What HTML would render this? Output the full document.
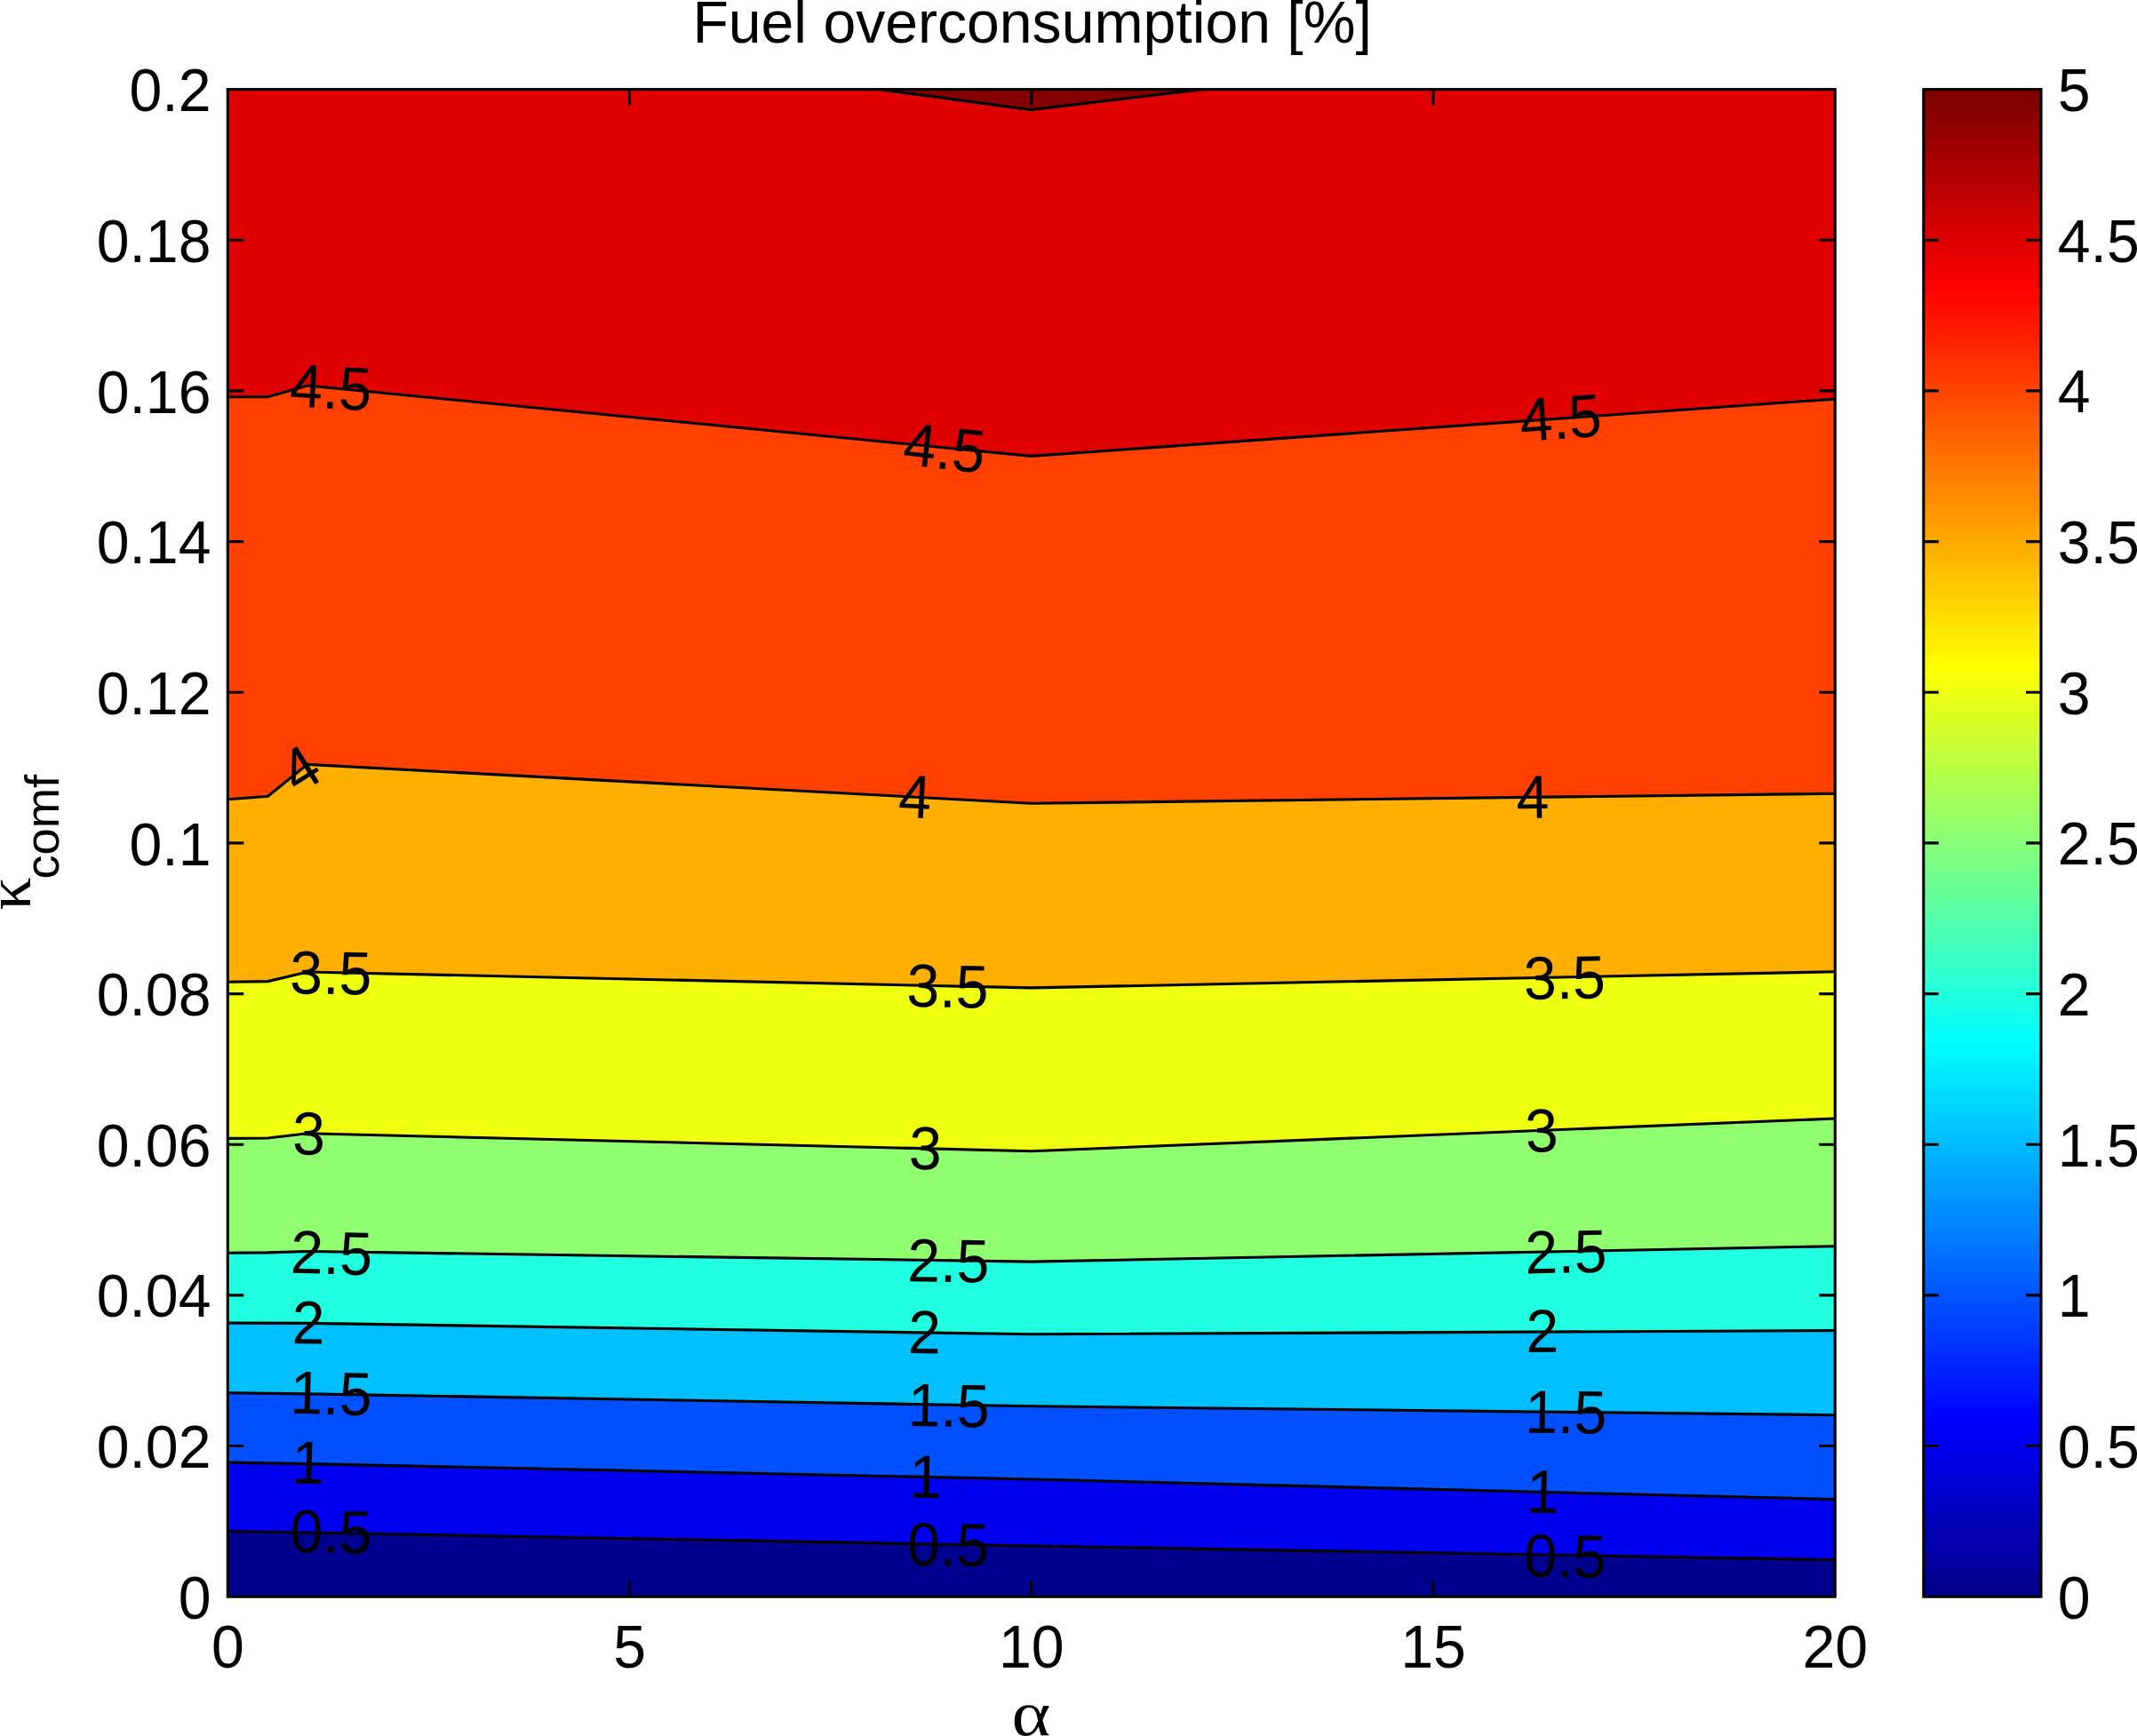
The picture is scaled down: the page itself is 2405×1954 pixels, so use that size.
<!DOCTYPE html>
<html lang="en"><head><meta charset="utf-8"><title>Fuel overconsumption [%]</title>
<style>html,body{margin:0;padding:0;background:#fff;overflow:hidden}svg{display:block}text{font-family:"Liberation Sans",sans-serif;font-size:66.67px;fill:#000}.sym{font-family:"Liberation Serif",serif}.ln{fill:none;stroke:#000;stroke-width:3.10;stroke-linejoin:miter;stroke-linecap:butt}</style></head><body>
<svg width="2405" height="1954" viewBox="0 0 2405 1954">
<rect x="0" y="0" width="2405" height="1954" fill="#fff"/>
<g shape-rendering="geometricPrecision">
<rect x="256.3" y="100.6" width="1808.9" height="1696.6" fill="#DF0000"/>
<polygon points="990.0,100.6 1160.5,123.6 1353.0,100.6" fill="#840000"/>
<polygon points="256.3,446.7 301.5,446.7 346.0,434.0 1160.5,513.4 2065.2,449.1 2065.2,1797.2 256.3,1797.2" fill="#FF4000"/>
<polygon points="256.3,899.7 301.5,896.2 346.0,860.4 1160.5,904.2 2065.2,893.2 2065.2,1797.2 256.3,1797.2" fill="#FFAF00"/>
<polygon points="256.3,1105.3 301.5,1104.6 346.0,1094.0 1160.5,1111.9 2065.2,1093.7 2065.2,1797.2 256.3,1797.2" fill="#EFFF10"/>
<polygon points="256.3,1281.4 301.5,1281.0 346.0,1275.8 1160.5,1295.7 2065.2,1259.0 2065.2,1797.2 256.3,1797.2" fill="#8FFF70"/>
<polygon points="256.3,1410.2 301.5,1409.9 346.0,1408.5 1160.5,1420.1 2065.2,1402.7 2065.2,1797.2 256.3,1797.2" fill="#20FFDF"/>
<polygon points="256.3,1489.1 346.0,1489.4 1160.5,1501.8 2065.2,1497.6 2065.2,1797.2 256.3,1797.2" fill="#00BFFF"/>
<polygon points="256.3,1567.8 346.0,1568.9 1160.5,1582.8 2065.2,1592.7 2065.2,1797.2 256.3,1797.2" fill="#0050FF"/>
<polygon points="256.3,1646.1 346.0,1647.6 1160.5,1665.0 2065.2,1687.6 2065.2,1797.2 256.3,1797.2" fill="#0000EF"/>
<polygon points="256.3,1723.5 346.0,1725.0 1160.5,1740.0 2065.2,1755.7 2065.2,1797.2 256.3,1797.2" fill="#00008F"/>
</g>
<g class="ln">
<polyline points="990.0,100.6 1160.5,123.6 1353.0,100.6"/>
<polyline points="256.3,446.7 301.5,446.7 346.0,434.0 1160.5,513.4 2065.2,449.1"/>
<polyline points="256.3,899.7 301.5,896.2 346.0,860.4 1160.5,904.2 2065.2,893.2"/>
<polyline points="256.3,1105.3 301.5,1104.6 346.0,1094.0 1160.5,1111.9 2065.2,1093.7"/>
<polyline points="256.3,1281.4 301.5,1281.0 346.0,1275.8 1160.5,1295.7 2065.2,1259.0"/>
<polyline points="256.3,1410.2 301.5,1409.9 346.0,1408.5 1160.5,1420.1 2065.2,1402.7"/>
<polyline points="256.3,1489.1 346.0,1489.4 1160.5,1501.8 2065.2,1497.6"/>
<polyline points="256.3,1567.8 346.0,1568.9 1160.5,1582.8 2065.2,1592.7"/>
<polyline points="256.3,1646.1 346.0,1647.6 1160.5,1665.0 2065.2,1687.6"/>
<polyline points="256.3,1723.5 346.0,1725.0 1160.5,1740.0 2065.2,1755.7"/>
</g>
<g>
<text transform="translate(325.24 457.34) rotate(3.00) scale(0.9930 1.0300)">4.5</text>
<text transform="translate(334.93 895.28) rotate(-32.00) scale(0.9930 1.0300)">4</text>
<text transform="translate(326.12 1118.33) rotate(0.70) scale(0.9930 1.0300)">3.5</text>
<text transform="translate(329.10 1299.54) rotate(0.50) scale(0.9930 1.0300)">3</text>
<text transform="translate(326.51 1432.68) rotate(1.50) scale(0.9930 1.0300)">2.5</text>
<text transform="translate(328.40 1512.14) rotate(0.50) scale(0.9930 1.0300)">2</text>
<text transform="translate(326.01 1590.78) rotate(1.50) scale(0.9930 1.0300)">1.5</text>
<text transform="translate(327.70 1669.41) rotate(1.50) scale(0.9930 1.0300)">1</text>
<text transform="translate(326.30 1747.09) rotate(1.00) scale(0.9930 1.0300)">0.5</text>
<text transform="translate(1014.72 522.67) rotate(6.30) scale(0.9930 1.0300)">4.5</text>
<text transform="translate(1010.31 919.50) rotate(3.00) scale(0.9930 1.0300)">4</text>
<text transform="translate(1020.12 1132.82) rotate(1.20) scale(0.9930 1.0300)">3.5</text>
<text transform="translate(1022.48 1315.77) rotate(1.30) scale(0.9930 1.0300)">3</text>
<text transform="translate(1020.98 1442.15) rotate(0.80) scale(0.9930 1.0300)">2.5</text>
<text transform="translate(1021.68 1523.04) rotate(0.80) scale(0.9930 1.0300)">2</text>
<text transform="translate(1021.40 1604.99) rotate(1.00) scale(0.9930 1.0300)">1.5</text>
<text transform="translate(1022.72 1685.41) rotate(1.20) scale(0.9930 1.0300)">1</text>
<text transform="translate(1020.70 1761.49) rotate(1.00) scale(0.9930 1.0300)">0.5</text>
<text transform="translate(1712.04 496.98) rotate(-4.00) scale(0.9930 1.0300)">4.5</text>
<text transform="translate(1706.79 920.92) rotate(-0.70) scale(0.9930 1.0300)">4</text>
<text transform="translate(1715.16 1124.99) rotate(-1.10) scale(0.9930 1.0300)">3.5</text>
<text transform="translate(1717.55 1297.03) rotate(-2.30) scale(0.9930 1.0300)">3</text>
<text transform="translate(1716.86 1433.49) rotate(-1.10) scale(0.9930 1.0300)">2.5</text>
<text transform="translate(1717.42 1522.00) rotate(-0.30) scale(0.9930 1.0300)">2</text>
<text transform="translate(1715.96 1612.71) rotate(0.60) scale(0.9930 1.0300)">1.5</text>
<text transform="translate(1717.14 1702.24) rotate(1.40) scale(0.9930 1.0300)">1</text>
<text transform="translate(1715.10 1774.49) rotate(1.00) scale(0.9930 1.0300)">0.5</text>
</g>
<g class="ln">
<rect x="256.3" y="100.6" width="1808.9" height="1696.6"/>
<path d="M708.5 1797.2V1779.2M708.5 100.6V118.6M1160.8 1797.2V1779.2M1160.8 100.6V118.6M1613.0 1797.2V1779.2M1613.0 100.6V118.6M256.3 270.3H274.3M2065.2 270.3H2047.2M256.3 439.9H274.3M2065.2 439.9H2047.2M256.3 609.6H274.3M2065.2 609.6H2047.2M256.3 779.2H274.3M2065.2 779.2H2047.2M256.3 948.9H274.3M2065.2 948.9H2047.2M256.3 1118.6H274.3M2065.2 1118.6H2047.2M256.3 1288.2H274.3M2065.2 1288.2H2047.2M256.3 1457.9H274.3M2065.2 1457.9H2047.2M256.3 1627.5H274.3M2065.2 1627.5H2047.2"/>
</g>
<defs><linearGradient id="jet" gradientUnits="userSpaceOnUse" x1="0" y1="1797.2" x2="0" y2="100.6">
<stop offset="0.00781" stop-color="#00008F"/>
<stop offset="0.02344" stop-color="#00009F"/>
<stop offset="0.03906" stop-color="#0000AF"/>
<stop offset="0.05469" stop-color="#0000BF"/>
<stop offset="0.07031" stop-color="#0000CF"/>
<stop offset="0.08594" stop-color="#0000DF"/>
<stop offset="0.10156" stop-color="#0000EF"/>
<stop offset="0.11719" stop-color="#0000FF"/>
<stop offset="0.13281" stop-color="#0010FF"/>
<stop offset="0.14844" stop-color="#0020FF"/>
<stop offset="0.16406" stop-color="#0030FF"/>
<stop offset="0.17969" stop-color="#0040FF"/>
<stop offset="0.19531" stop-color="#0050FF"/>
<stop offset="0.21094" stop-color="#0060FF"/>
<stop offset="0.22656" stop-color="#0070FF"/>
<stop offset="0.24219" stop-color="#0080FF"/>
<stop offset="0.25781" stop-color="#008FFF"/>
<stop offset="0.27344" stop-color="#009FFF"/>
<stop offset="0.28906" stop-color="#00AFFF"/>
<stop offset="0.30469" stop-color="#00BFFF"/>
<stop offset="0.32031" stop-color="#00CFFF"/>
<stop offset="0.33594" stop-color="#00DFFF"/>
<stop offset="0.35156" stop-color="#00EFFF"/>
<stop offset="0.36719" stop-color="#00FFFF"/>
<stop offset="0.38281" stop-color="#10FFEF"/>
<stop offset="0.39844" stop-color="#20FFDF"/>
<stop offset="0.41406" stop-color="#30FFCF"/>
<stop offset="0.42969" stop-color="#40FFBF"/>
<stop offset="0.44531" stop-color="#50FFAF"/>
<stop offset="0.46094" stop-color="#60FF9F"/>
<stop offset="0.47656" stop-color="#70FF8F"/>
<stop offset="0.49219" stop-color="#80FF80"/>
<stop offset="0.50781" stop-color="#8FFF70"/>
<stop offset="0.52344" stop-color="#9FFF60"/>
<stop offset="0.53906" stop-color="#AFFF50"/>
<stop offset="0.55469" stop-color="#BFFF40"/>
<stop offset="0.57031" stop-color="#CFFF30"/>
<stop offset="0.58594" stop-color="#DFFF20"/>
<stop offset="0.60156" stop-color="#EFFF10"/>
<stop offset="0.61719" stop-color="#FFFF00"/>
<stop offset="0.63281" stop-color="#FFEF00"/>
<stop offset="0.64844" stop-color="#FFDF00"/>
<stop offset="0.66406" stop-color="#FFCF00"/>
<stop offset="0.67969" stop-color="#FFBF00"/>
<stop offset="0.69531" stop-color="#FFAF00"/>
<stop offset="0.71094" stop-color="#FF9F00"/>
<stop offset="0.72656" stop-color="#FF8F00"/>
<stop offset="0.74219" stop-color="#FF8000"/>
<stop offset="0.75781" stop-color="#FF7000"/>
<stop offset="0.77344" stop-color="#FF6000"/>
<stop offset="0.78906" stop-color="#FF5000"/>
<stop offset="0.80469" stop-color="#FF4000"/>
<stop offset="0.82031" stop-color="#FF3000"/>
<stop offset="0.83594" stop-color="#FF2000"/>
<stop offset="0.85156" stop-color="#FF1000"/>
<stop offset="0.86719" stop-color="#FF0000"/>
<stop offset="0.88281" stop-color="#EF0000"/>
<stop offset="0.89844" stop-color="#DF0000"/>
<stop offset="0.91406" stop-color="#CF0000"/>
<stop offset="0.92969" stop-color="#BF0000"/>
<stop offset="0.94531" stop-color="#AF0000"/>
<stop offset="0.96094" stop-color="#9F0000"/>
<stop offset="0.97656" stop-color="#8F0000"/>
<stop offset="0.99219" stop-color="#800000"/>
</linearGradient></defs>
<rect x="2164.8" y="100.6" width="132.2" height="1696.6" fill="url(#jet)"/>
<g class="ln">
<rect x="2164.8" y="100.6" width="132.2" height="1696.6"/>
<path d="M2164.8 270.3H2181.8M2297.0 270.3H2280.0M2164.8 439.9H2181.8M2297.0 439.9H2280.0M2164.8 609.6H2181.8M2297.0 609.6H2280.0M2164.8 779.2H2181.8M2297.0 779.2H2280.0M2164.8 948.9H2181.8M2297.0 948.9H2280.0M2164.8 1118.6H2181.8M2297.0 1118.6H2280.0M2164.8 1288.2H2181.8M2297.0 1288.2H2280.0M2164.8 1457.9H2181.8M2297.0 1457.9H2280.0M2164.8 1627.5H2181.8M2297.0 1627.5H2280.0"/>
</g>
<g>
<text transform="translate(256.30 1877.00) scale(0.9930 1.0300)" text-anchor="middle">0</text>
<text transform="translate(708.53 1877.00) scale(0.9930 1.0300)" text-anchor="middle">5</text>
<text transform="translate(1160.75 1877.00) scale(0.9930 1.0300)" text-anchor="middle">10</text>
<text transform="translate(1612.97 1877.00) scale(0.9930 1.0300)" text-anchor="middle">15</text>
<text transform="translate(2065.20 1877.00) scale(0.9930 1.0300)" text-anchor="middle">20</text>
<text transform="translate(237.50 1821.80) scale(0.9930 1.0300)" text-anchor="end">0</text>
<text transform="translate(237.50 1652.14) scale(0.9930 1.0300)" text-anchor="end">0.02</text>
<text transform="translate(237.50 1482.48) scale(0.9930 1.0300)" text-anchor="end">0.04</text>
<text transform="translate(237.50 1312.82) scale(0.9930 1.0300)" text-anchor="end">0.06</text>
<text transform="translate(237.50 1143.16) scale(0.9930 1.0300)" text-anchor="end">0.08</text>
<text transform="translate(237.50 973.50) scale(0.9930 1.0300)" text-anchor="end">0.1</text>
<text transform="translate(237.50 803.84) scale(0.9930 1.0300)" text-anchor="end">0.12</text>
<text transform="translate(237.50 634.18) scale(0.9930 1.0300)" text-anchor="end">0.14</text>
<text transform="translate(237.50 464.52) scale(0.9930 1.0300)" text-anchor="end">0.16</text>
<text transform="translate(237.50 294.86) scale(0.9930 1.0300)" text-anchor="end">0.18</text>
<text transform="translate(237.50 125.20) scale(0.9930 1.0300)" text-anchor="end">0.2</text>
<text transform="translate(2315.80 1821.70) scale(0.9930 1.0300)">0</text>
<text transform="translate(2315.80 1652.04) scale(0.9930 1.0300)">0.5</text>
<text transform="translate(2315.80 1482.38) scale(0.9930 1.0300)">1</text>
<text transform="translate(2315.80 1312.72) scale(0.9930 1.0300)">1.5</text>
<text transform="translate(2315.80 1143.06) scale(0.9930 1.0300)">2</text>
<text transform="translate(2315.80 973.40) scale(0.9930 1.0300)">2.5</text>
<text transform="translate(2315.80 803.74) scale(0.9930 1.0300)">3</text>
<text transform="translate(2315.80 634.08) scale(0.9930 1.0300)">3.5</text>
<text transform="translate(2315.80 464.42) scale(0.9930 1.0300)">4</text>
<text transform="translate(2315.80 294.76) scale(0.9930 1.0300)">4.5</text>
<text transform="translate(2315.80 125.10) scale(0.9930 1.0300)">5</text>
</g>
<text transform="translate(1161.6 48.3) scale(0.992 1.0)" text-anchor="middle">Fuel overconsumption [%]</text>
<text class="sym" transform="translate(1160.5 1952.5) scale(1.17 1.0)" text-anchor="middle" style="font-size:71.5px">α</text>
<g transform="translate(34.0 1023.1) rotate(-90)"><text class="sym" transform="translate(-1.5 0) scale(1.02 1.0)" style="font-size:72px">κ</text><text transform="translate(33.5 32.4) scale(1.0 0.975)" style="font-size:54.3px">comf</text></g>
</svg></body></html>
